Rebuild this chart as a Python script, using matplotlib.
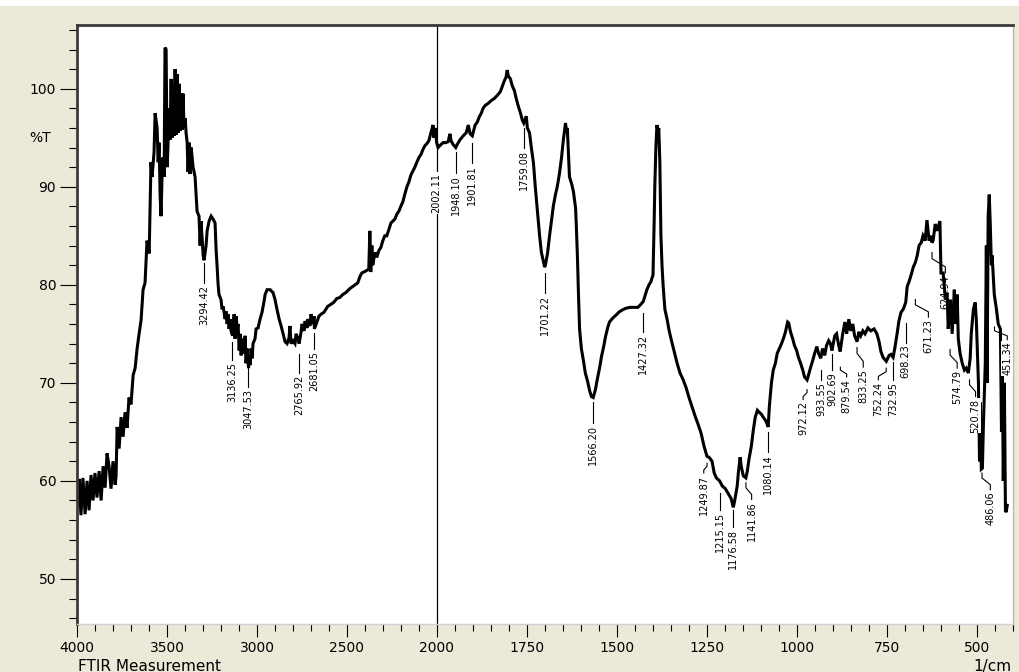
import numpy as np
import matplotlib
matplotlib.use("Agg")
import matplotlib.pyplot as plt
from matplotlib.patches import Rectangle

# FTIR spectrum, %T against wavenumber (1/cm)
wavenumber = [
    4000, 3994, 3989, 3978, 3967, 3955, 3944, 3933, 3922, 3911, 3900, 3889, 3877, 3866, 3855, 3844,
    3833, 3822, 3811, 3800, 3788, 3783, 3777, 3766, 3755, 3744, 3733, 3722, 3711, 3700, 3688, 3677,
    3666, 3655, 3644, 3633, 3622, 3611, 3599, 3594, 3589, 3583, 3572, 3566, 3555, 3549, 3544, 3538,
    3533, 3527, 3522, 3516, 3511, 3505, 3499, 3494, 3488, 3483, 3477, 3472, 3466, 3460, 3455, 3449,
    3444, 3438, 3433, 3427, 3422, 3416, 3411, 3405, 3399, 3394, 3388, 3383, 3377, 3372, 3366, 3355,
    3344, 3338, 3333, 3322, 3316, 3311, 3299, 3294, 3283, 3277, 3266, 3255, 3244, 3233, 3227, 3222,
    3216, 3211, 3200, 3194, 3188, 3177, 3172, 3166, 3161, 3155, 3149, 3144, 3136, 3133, 3127, 3122,
    3116, 3110, 3105, 3099, 3094, 3088, 3083, 3072, 3066, 3061, 3055, 3047, 3044, 3038, 3033, 3027,
    3022, 3011, 3005, 2994, 2983, 2972, 2961, 2955, 2944, 2927, 2911, 2900, 2889, 2877, 2866, 2855,
    2844, 2833, 2822, 2817, 2811, 2800, 2789, 2783, 2772, 2766, 2755, 2750, 2739, 2733, 2722, 2717,
    2706, 2700, 2689, 2683, 2681, 2667, 2656, 2644, 2628, 2607, 2590, 2574, 2557, 2540, 2524, 2507,
    2485, 2462, 2440, 2429, 2418, 2396, 2379, 2373, 2368, 2362, 2357, 2345, 2334, 2323, 2312, 2301,
    2290, 2279, 2268, 2256, 2245, 2234, 2223, 2212, 2201, 2189, 2178, 2167, 2156, 2145, 2134, 2123,
    2112, 2100, 2089, 2078, 2067, 2056, 2045, 2034, 2022, 2017, 2011, 2002, 1997, 1992, 1983, 1975,
    1969, 1964, 1961, 1955, 1948, 1944, 1936, 1927, 1919, 1913, 1908, 1902, 1894, 1888, 1883, 1877,
    1872, 1866, 1858, 1849, 1841, 1833, 1824, 1819, 1813, 1808, 1805, 1802, 1796, 1791, 1785, 1780,
    1774, 1768, 1763, 1759, 1752, 1749, 1743, 1738, 1732, 1727, 1721, 1715, 1710, 1701, 1699, 1693,
    1688, 1682, 1677, 1671, 1666, 1660, 1654, 1649, 1643, 1640, 1638, 1635, 1632, 1626, 1621, 1615,
    1613, 1610, 1607, 1604, 1599, 1593, 1588, 1582, 1576, 1571, 1566, 1560, 1554, 1548, 1543, 1537,
    1532, 1526, 1521, 1512, 1503, 1495, 1487, 1476, 1464, 1453, 1442, 1434, 1427, 1417, 1411, 1406,
    1400, 1397, 1395, 1392, 1389, 1386, 1384, 1381, 1378, 1375, 1372, 1367, 1361, 1355, 1350, 1341,
    1333, 1325, 1316, 1308, 1300, 1291, 1283, 1275, 1266, 1258, 1250, 1244, 1236, 1230, 1224, 1215,
    1208, 1199, 1191, 1183, 1177, 1174, 1166, 1163, 1160, 1158, 1155, 1149, 1142, 1138, 1133, 1127,
    1122, 1116, 1110, 1105, 1099, 1094, 1088, 1083, 1080, 1077, 1071, 1066, 1060, 1055, 1043, 1037,
    1032, 1026, 1023, 1018, 1012, 1007, 1001, 996, 990, 984, 979, 972, 968, 962, 957, 951,
    945, 940, 934, 929, 923, 918, 912, 907, 903, 895, 890, 884, 880, 873, 867, 862,
    856, 851, 845, 840, 833, 828, 823, 817, 811, 803, 795, 786, 778, 772, 767, 761,
    752, 744, 739, 733, 728, 722, 717, 711, 705, 698, 694, 689, 683, 677, 671, 666,
    661, 655, 650, 644, 639, 633, 628, 625, 622, 616, 611, 603, 600, 594, 588, 583,
    580, 574, 569, 563, 560, 555, 552, 547, 541, 535, 530, 524, 519, 516, 510, 505,
    502, 496, 493, 491, 488, 485, 482, 477, 474, 472, 469, 466, 463, 460, 458, 452,
    446, 441, 435, 432, 430, 427, 424, 421, 419, 416,
]
transmittance = [
    60.0, 57.5, 60.2, 56.5, 60.3, 56.6, 60.0, 57.0, 60.6, 58.0, 60.8, 58.3, 61.0, 58.0, 61.5, 59.3,
    62.8, 61.5, 59.2, 62.0, 59.6, 60.5, 65.5, 63.3, 66.5, 64.5, 67.0, 65.4, 68.5, 67.8, 70.8, 71.5,
    73.5, 75.0, 76.4, 79.5, 80.2, 84.5, 83.2, 88.0, 92.5, 91.0, 93.5, 97.5, 96.0, 92.5, 94.5, 89.0,
    87.0, 91.5, 93.0, 91.0, 104.2, 104.0, 92.0, 94.5, 98.0, 94.8, 101.0, 95.0, 100.5, 95.2, 102.0, 95.3,
    101.5, 95.5, 100.5, 95.7, 99.5, 95.8, 99.5, 96.0, 97.0, 95.5, 94.5, 91.5, 94.5, 91.3, 94.0, 92.0,
    91.0, 89.0, 87.5, 87.0, 84.0, 86.5, 83.0, 82.5, 84.0, 85.5, 86.5, 87.0, 86.7, 86.3, 83.5, 82.0,
    80.0, 79.0, 78.5, 77.5, 77.8, 76.5, 77.3, 76.0, 77.0, 75.5, 76.5, 75.3, 74.8, 75.5, 77.0, 74.5,
    76.8, 75.5, 76.0, 73.3, 75.0, 72.8, 74.5, 73.0, 74.8, 72.0, 73.5, 71.5, 72.5, 71.8, 73.5, 72.5,
    74.0, 74.5, 75.5, 75.6, 76.5, 77.2, 78.3, 79.0, 79.5, 79.5, 79.2, 78.5, 77.5, 76.5, 75.8, 75.0,
    74.2, 74.0, 74.6, 75.8, 74.0, 74.3, 74.0, 75.0, 74.5, 74.0, 75.2, 76.0, 75.3, 76.3, 75.6, 76.5,
    75.8, 77.0, 76.0, 76.8, 75.5, 76.2, 76.8, 77.0, 77.2, 77.8, 78.0, 78.2, 78.6, 78.7, 79.0, 79.2,
    79.6, 79.9, 80.2, 80.8, 81.2, 81.4, 81.6, 85.5, 81.3, 84.0, 82.0, 83.3, 82.8, 83.5, 83.8, 84.5,
    85.0, 85.0, 85.6, 86.3, 86.5, 86.7, 87.2, 87.5, 88.0, 88.5, 89.3, 90.0, 90.5, 91.2, 91.6, 92.0,
    92.5, 93.0, 93.3, 93.8, 94.2, 94.4, 94.7, 95.5, 96.3, 95.0, 96.0, 94.5, 94.0, 94.2, 94.5, 94.5,
    94.6, 95.4, 94.7, 94.3, 94.0, 94.3, 94.8, 95.2, 95.5, 96.3, 95.4, 95.2, 96.3, 96.6, 97.1, 97.5,
    98.0, 98.3, 98.5, 98.8, 99.0, 99.3, 99.7, 100.2, 100.8, 101.2, 101.9, 101.3, 101.0, 100.3, 99.8, 99.0,
    98.2, 97.5, 96.8, 96.5, 97.2, 96.0, 95.5, 94.0, 92.4, 90.0, 87.5, 85.0, 83.3, 81.8, 82.0, 83.2,
    84.8, 86.5, 88.0, 89.2, 90.0, 91.3, 93.0, 94.8, 96.5, 95.5, 96.0, 93.5, 91.0, 90.3, 89.5, 87.8,
    86.0, 83.0, 79.0, 75.5, 73.5, 72.2, 71.0, 70.2, 69.2, 68.6, 68.5, 69.3, 70.5, 71.6, 72.7, 73.7,
    74.7, 75.6, 76.2, 76.6, 76.9, 77.2, 77.4, 77.6, 77.7, 77.7, 77.7, 78.0, 78.3, 79.5, 80.0, 80.3,
    81.0, 86.0, 90.0, 94.0, 96.3, 95.5, 96.0, 92.5, 85.0, 82.0, 80.0, 77.5, 76.5, 75.3, 74.5, 73.2,
    72.0, 71.0, 70.3, 69.5, 68.5, 67.5, 66.6, 65.8, 64.8, 63.5, 62.5, 62.4, 62.0, 60.8, 60.3, 60.0,
    59.5, 59.2, 58.7, 58.2, 57.3, 57.8, 59.5, 60.8, 61.8, 62.4, 61.5, 60.5, 60.3, 61.0, 62.3, 63.5,
    65.0, 66.5, 67.2, 67.0, 66.8, 66.5, 66.2, 65.8, 65.5, 67.5, 70.0, 71.3, 72.0, 73.0, 74.0, 74.6,
    75.2, 76.2, 76.1, 75.2, 74.5, 73.8, 73.3, 72.6, 72.0, 71.3, 70.6, 70.3, 70.8, 71.6, 72.2, 73.0,
    73.7, 73.0, 72.5, 73.5, 72.8, 73.8, 74.3, 74.0, 73.3, 74.8, 75.0, 73.8, 73.2, 75.0, 76.2, 75.0,
    76.5, 75.3, 76.0, 74.8, 74.2, 75.2, 74.8, 75.3, 75.0, 75.6, 75.3, 75.5, 75.0, 74.2, 73.2, 72.6,
    72.2, 72.8, 72.9, 72.6, 73.6, 75.0, 76.3, 77.2, 77.5, 78.2, 79.8, 80.3, 81.0, 81.8, 82.3, 83.0,
    84.0, 84.3, 85.0, 84.5, 86.6, 84.5, 85.0, 84.3, 84.5, 86.2, 85.5, 86.5, 81.2, 81.2, 78.5, 79.2,
    75.5, 78.5, 75.0, 79.5, 76.0, 79.0, 74.5, 73.0, 72.0, 71.3, 71.5, 71.0, 72.5, 75.0, 77.5, 78.2,
    76.5, 70.0, 62.0, 68.0, 61.2, 61.3, 66.0, 72.0, 84.0, 70.0, 87.0, 89.2, 86.0, 82.0, 83.0, 79.0,
    77.5, 76.0, 75.5, 65.0, 73.0, 60.0, 70.0, 57.0, 56.8, 57.5,
]

# picked peaks: label, leader tip (%T), text position (1/cm) and text top (%T)
peak_labels = [
    "3294.42", "3136.25", "3047.53", "2765.92", "2681.05", "1948.10", "1901.81", "1759.08",
    "1701.22", "1566.20", "1427.32", "1249.87", "1215.15", "1176.58", "1141.86", "1080.14",
    "972.12", "933.55", "902.69", "879.54", "833.25", "752.24", "732.95", "698.23",
    "671.23", "624.94", "574.79", "520.78", "486.06", "451.34",
]
peak_tip = [
    82.2, 74.2, 72.3, 72.9, 75.1, 93.5, 94.5, 96.0,
    81.2, 68.0, 77.1, 61.8, 58.8, 57.0, 59.8, 65.0,
    69.3, 71.3, 72.9, 71.6, 73.6, 71.5, 72.1, 76.1,
    78.5, 83.3, 73.4, 70.3, 60.8, 75.7,
]
peak_text_x = [
    3294.42, 3136.25, 3047.53, 2765.92, 2681.05, 1948.10, 1901.81, 1759.08,
    1701.22, 1566.20, 1427.32, 1259, 1215.15, 1176.58, 1126, 1080.14,
    983, 933.55, 902.69, 862, 816, 774, 732.95, 698.23,
    635, 588, 555, 504, 463, 416,
]
peak_text_top = [
    80.2, 72.3, 69.6, 71.0, 73.4, 91.4, 92.4, 94.0,
    79.2, 65.9, 75.2, 60.8, 57.0, 55.3, 58.1, 62.9,
    68.3, 70.3, 71.3, 70.6, 71.6, 70.3, 70.3, 74.1,
    76.7, 81.2, 71.5, 68.6, 59.1, 74.4,
]
boxed_labels = ["520.78", "451.34"]

x_major = [4000, 3500, 3000, 2500, 2000, 1750, 1500, 1250, 1000, 750, 500]
y_major = [50, 60, 70, 80, 90, 100]

bg = "#ECE9D8"


def fwd(w):
    # above 2000 1/cm the axis is compressed by a factor of two
    w = np.asarray(w, dtype=float)
    return np.where(w > 2000, 2000 + (w - 2000) / 2, w)


def inv(u):
    u = np.asarray(u, dtype=float)
    return np.where(u > 2000, 2000 + (u - 2000) * 2, u)


plt.rcParams["font.family"] = "DejaVu Sans"

fig = plt.figure(figsize=(10.19, 6.72), dpi=100, facecolor=bg)
fig.patches.append(Rectangle((0, 1 - 6 / 672), 1, 6 / 672, transform=fig.transFigure,
                             facecolor="white", edgecolor="none"))
ax = fig.add_axes([77 / 1019, 48 / 672, 936 / 1019, 599 / 672])
ax.set_facecolor("white")

ax.set_xscale("function", functions=(fwd, inv))
ax.set_xlim(4000, 400)
ax.set_ylim(45.4, 106.5)

ax.plot(wavenumber, transmittance, color="black", lw=2.2, solid_joinstyle="miter")
ax.axvline(2000, color="black", lw=0.9)

# peak labels with leader lines
for lab, tip, tx, ttop in zip(peak_labels, peak_tip, peak_text_x, peak_text_top):
    px = float(lab)
    span = tip - ttop
    ax.plot([px, px, tx, tx], [tip, tip - 0.3 * span, ttop + 0.3 * span, ttop],
            color="black", lw=0.8)
    kw = {}
    if lab in boxed_labels:
        kw["bbox"] = dict(facecolor="white", edgecolor="none", pad=0.6)
    ax.text(tx, ttop - 0.2, lab, rotation=90, ha="center", va="top", fontsize=7, **kw)

ax.text(2002.11, 91.4, "2002.11", rotation=90, ha="center", va="top", fontsize=7,
        bbox=dict(facecolor="white", edgecolor="none", pad=0.6))

# axes frame
for side in ("top", "left"):
    ax.spines[side].set_color("#3a3a3a")
    ax.spines[side].set_linewidth(2)
ax.spines["right"].set_color("#b8b8b8")
ax.spines["bottom"].set_color("#cfcfcf")
ax.spines["right"].set_linewidth(1)
ax.spines["bottom"].set_linewidth(1)

ax.set_xticks(x_major, labels=[str(v) for v in x_major])
x_minor = list(range(4000, 2000, -100)) + list(range(2000, 399, -50))
ax.set_xticks(x_minor, minor=True)
ax.set_yticks(y_major, labels=[str(v) for v in y_major])
ax.set_yticks(list(range(46, 107, 2)), minor=True)

ax.tick_params(axis="x", which="major", length=9.5, width=0.8, pad=3, labelsize=10, direction="out")
ax.tick_params(axis="x", which="minor", length=5, width=0.8, direction="out")
ax.tick_params(axis="y", which="major", length=12, width=0.8, pad=3, labelsize=10, direction="out")
ax.tick_params(axis="y", which="minor", length=6, width=0.8, direction="out")

ax.text(-0.028, 95, "%T", transform=ax.get_yaxis_transform(), ha="right", va="center", fontsize=10)

fig.text(78 / 1019, 1 - 659 / 672, "FTIR Measurement", ha="left", va="top", fontsize=11)
fig.text(1011 / 1019, 1 - 659 / 672, "1/cm", ha="right", va="top", fontsize=11)

fig.savefig("out.png", dpi=100, facecolor=bg)
